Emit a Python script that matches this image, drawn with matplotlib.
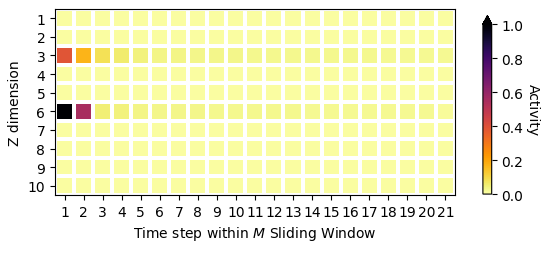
import matplotlib
matplotlib.use('Agg')
import matplotlib.pyplot as plt
import numpy as np

rows = [str(i) for i in range(1, 11)]
steps = [str(i) for i in range(1, 22)]

background = 0.005
row3 = [0.39, 0.17, 0.08, 0.055, 0.04, 0.035, 0.035, 0.03, 0.03, 0.03, 0.025,
        0.025, 0.025, 0.025, 0.025, 0.025, 0.025, 0.02, 0.02, 0.02, 0.02]
row6 = [1.05, 0.55, 0.05, 0.04, 0.035, 0.03, 0.03, 0.03, 0.025, 0.025, 0.025,
        0.025, 0.025, 0.02, 0.02, 0.02, 0.02, 0.02, 0.02, 0.02, 0.015]

activity = np.full((len(rows), len(steps)), background)
activity[2] = row3
activity[5] = row6

fig = plt.figure(figsize=(5.5, 2.55), dpi=100)
ax = fig.add_axes([0.1, 0.231, 0.727, 0.73])
mesh = ax.pcolormesh(activity, cmap='inferno_r', vmin=0, vmax=1,
                     edgecolors='white', linewidth=2.6)
ax.set_xlim(0, len(steps))
ax.set_ylim(len(rows), 0)
ax.set_xticks(np.arange(len(steps)) + 0.5)
ax.set_xticklabels(steps)
ax.set_yticks(np.arange(len(rows)) + 0.5)
ax.set_yticklabels(rows)
ax.set_xlabel('Time step within $M$ Sliding Window')
ax.set_ylabel('Z dimension')

cax = fig.add_axes([0.878, 0.235, 0.016, 0.70])
cb = fig.colorbar(mesh, cax=cax, extend='max')
cb.set_label('Activity', rotation=270, labelpad=12)
cb.set_ticks([0, 0.2, 0.4, 0.6, 0.8, 1.0])

fig.savefig('out.png', dpi=100)
